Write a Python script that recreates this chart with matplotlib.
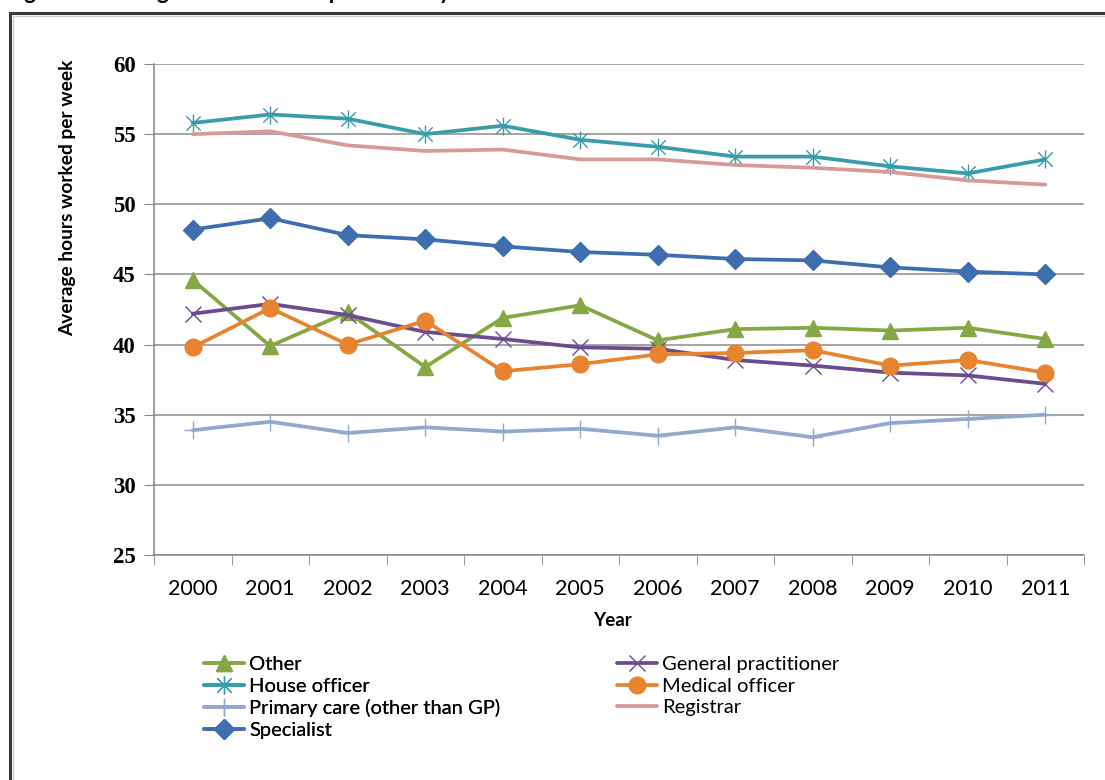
import matplotlib
matplotlib.use("Agg")
import matplotlib.pyplot as plt
import numpy as np
from matplotlib.path import Path
from matplotlib.patches import Rectangle

plt.rcParams['font.family'] = ['Lato', 'DejaVu Sans']

years = ['2000', '2001', '2002', '2003', '2004', '2005',
         '2006', '2007', '2008', '2009', '2010', '2011']

other = [44.6, 39.9, 42.3, 38.4, 41.9, 42.8, 40.3, 41.1, 41.2, 41.0, 41.2, 40.4]
general_practitioner = [42.2, 42.9, 42.1, 40.9, 40.4, 39.8, 39.7, 38.9, 38.5, 38.0, 37.8, 37.2]
house_officer = [55.8, 56.4, 56.1, 55.0, 55.6, 54.6, 54.1, 53.4, 53.4, 52.7, 52.2, 53.2]
medical_officer = [39.8, 42.6, 40.0, 41.7, 38.1, 38.6, 39.3, 39.4, 39.6, 38.5, 38.9, 38.0]
primary_care = [33.9, 34.5, 33.7, 34.1, 33.8, 34.0, 33.5, 34.1, 33.4, 34.4, 34.7, 35.0]
registrar = [55.0, 55.2, 54.2, 53.8, 53.9, 53.2, 53.2, 52.8, 52.6, 52.3, 51.7, 51.4]
specialist = [48.2, 49.0, 47.8, 47.5, 47.0, 46.6, 46.4, 46.1, 46.0, 45.5, 45.2, 45.0]

# vertical bar + X, like the spreadsheet "star" marker
star = Path([(0, -1), (0, 1), (-0.8, -0.8), (0.8, 0.8), (-0.8, 0.8), (0.8, -0.8)],
            [Path.MOVETO, Path.LINETO, Path.MOVETO, Path.LINETO, Path.MOVETO, Path.LINETO])

series = [
    ('Other', other, '#86A844', '^', 12),
    ('General practitioner', general_practitioner, '#6B4C8E', 'x', 11),
    ('House officer', house_officer, '#3A9CAA', star, 13),
    ('Medical officer', medical_officer, '#E8842F', 'o', 12),
    ('Primary care (other than GP)', primary_care, '#93A8CE', '+', 13),
    ('Registrar', registrar, '#D69A99', None, 0),
    ('Specialist', specialist, '#3F6EB0', 'D', 10),
]

fig = plt.figure(figsize=(11.05, 7.8), dpi=100)
ax = fig.add_axes([154 / 1105, 1 - 555 / 780, 930 / 1105, 491 / 780])

x = np.arange(len(years))
handles = {}
for name, vals, col, mk, ms in series:
    if mk is None:
        h, = ax.plot(x, vals, color=col, lw=2.7, solid_capstyle='round', zorder=3)
    elif mk in ('x', '+') or mk is star:
        h, = ax.plot(x, vals, color=col, lw=2.7, marker=mk, ms=ms, mew=1.0,
                     mec=col, mfc='none', solid_capstyle='round', zorder=3)
    else:
        h, = ax.plot(x, vals, color=col, lw=2.7, marker=mk, ms=ms, mec=col,
                     mfc=col, solid_capstyle='round', zorder=3)
    handles[name] = h

ax.set_xlim(-0.5, len(years) - 0.5)
ax.set_ylim(25, 60)
ax.set_yticks(range(25, 61, 5))
ax.set_xticks(x)
ax.set_xticklabels(years, fontsize=15.5)
ax.set_xticks(np.arange(len(years) + 1) - 0.5, minor=True)
ax.tick_params(axis='x', which='major', length=0, pad=17)
ax.tick_params(axis='x', which='minor', length=7, color='#868686')
ax.tick_params(axis='y', length=7, color='#868686', pad=6)
for lab in ax.get_yticklabels():
    lab.set_family('Liberation Serif')
    lab.set_fontsize(16.5)
    lab.set_weight('bold')

ax.yaxis.grid(True, color='#8C8C8C', lw=1.1)
ax.set_axisbelow(True)
for s in ['top', 'right']:
    ax.spines[s].set_visible(False)
for s in ['left', 'bottom']:
    ax.spines[s].set_color('#868686')
    ax.spines[s].set_linewidth(1.1)

fig.text(612 / 1105, 1 - 621 / 780, 'Year', ha='center', va='center',
         fontsize=13.5, fontweight='bold')
fig.text(68 / 1105, 1 - 198 / 780, 'Average hours worked per week', rotation=90,
         ha='center', va='center', fontsize=13.8, fontweight='bold')

# legend in two columns under the axis
left_names = ['Other', 'House officer', 'Primary care (other than GP)', 'Specialist']
right_names = ['General practitioner', 'Medical officer', 'Registrar']
leg_kw = dict(loc='upper left', frameon=False, fontsize=14.5, handlelength=2.0,
              handletextpad=0.25, labelspacing=0.22, borderaxespad=0, borderpad=0)
leg1 = fig.legend([handles[n] for n in left_names], left_names,
                  bbox_to_anchor=(204 / 1105, 1 - 656 / 780), **leg_kw)
fig.legend([handles[n] for n in right_names], right_names,
           bbox_to_anchor=(617 / 1105, 1 - 656 / 780), **leg_kw)
fig.add_artist(leg1)

# caption above, mostly cut off by the top edge
fig.text(6 / 1105, 1 + 1 / 780, 'Figure 4: Average hours worked per week by medical role',
         ha='left', va='baseline', fontsize=16, fontweight='bold')

# outer frame
fig.add_artist(Rectangle((10 / 1105, -0.05), 1.2, 1 - 13 / 780 + 0.05,
                         transform=fig.transFigure, fill=False,
                         edgecolor='#3A3A3A', lw=2.2, clip_on=False))
fig.add_artist(Rectangle((13 / 1105, -0.05), 1.2, 1 - 16 / 780 + 0.05,
                         transform=fig.transFigure, fill=False,
                         edgecolor='#D0D0D0', lw=1.0, clip_on=False))

fig.savefig('out.png', dpi=100)
